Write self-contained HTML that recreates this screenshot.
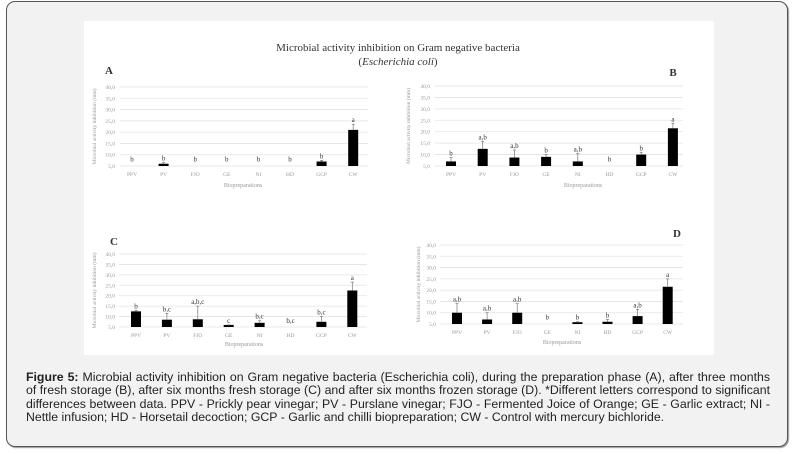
<!DOCTYPE html>
<html><head><meta charset="utf-8"><style>
body{margin:0;width:794px;height:454px;background:#fff;position:relative;overflow:hidden;font-family:"Liberation Sans",Arial,sans-serif}
#frame{position:absolute;left:6px;top:1px;width:780px;height:444px;border:1px solid #555;border-radius:9px;background:#f2f2f2;box-shadow:1px 1px 1px #999}
#img{position:absolute;left:84px;top:21px;width:630px;height:334px;background:#fff}
#cap{position:absolute;left:26px;top:371px;width:744px;font-size:12.3px;line-height:13.3px;color:#222;text-align:justify}
svg{position:absolute;left:0;top:0}
</style></head><body>
<div id="frame"></div><div id="img"></div>
<svg id="s" width="794" height="454" font-family="Liberation Serif,serif"></svg>
<div id="cap"><b>Figure 5:</b> Microbial activity inhibition on Gram negative bacteria (Escherichia coli), during the preparation phase (A), after three months of fresh storage (B), after six months fresh storage (C) and after six months frozen storage (D). *Different letters correspond to significant differences between data. PPV - Prickly pear vinegar; PV - Purslane vinegar; FJO - Fermented Joice of Orange; GE - Garlic extract; NI - Nettle infusion; HD - Horsetail decoction; GCP - Garlic and chilli biopreparation; CW - Control with mercury bichloride.</div>
<script>
var s=document.getElementById('s'),h='';
h+='<text x="398" y="51" text-anchor="middle" font-size="11" fill="#333">Microbial activity inhibition on Gram negative bacteria</text>';
h+='<text x="398" y="65" text-anchor="middle" font-size="11" fill="#333">(<tspan font-style="italic">Escherichia coli</tspan>)</text>';
var cats=['PPV','PV','FJO','GE','NI','HD','GCP','CW'];
function panel(o){
 var y40=o.y40,y5=o.y5,k=(y5-y40)/35;
 function Y(v){return y5-(v-5)*k}
 for(var v=5;v<=40;v+=5){var y=Y(v);
  h+='<line x1="'+o.g0+'" x2="'+o.g1+'" y1="'+y+'" y2="'+y+'" stroke="#e3e3e3" stroke-width="0.8"/>';
  h+='<text x="'+o.lx+'" y="'+(y+2)+'" text-anchor="end" font-size="5.5" fill="#999">'+v.toFixed(1).replace('.',',')+'</text>';}
 var mid=(y40+y5)/2;
 h+='<text transform="translate('+o.tx+','+mid+') rotate(-90)" text-anchor="middle" font-size="5.5" fill="#999">Microbial activity inhibition (mm)</text>';
 for(var i=0;i<8;i++){var x=o.c0+i*o.sp,d=o.d[i];
  h+='<text x="'+x+'" y="'+o.ly+'" text-anchor="middle" font-size="5.5" fill="#999">'+cats[i]+'</text>';
  var top=Y(d[0]>5?d[0]:5);
  if(d[0]>5){h+='<rect x="'+(x-5)+'" y="'+top+'" width="10" height="'+(y5-top)+'" fill="#000"/>';}
  if(d[1]){var e=Y(d[1]);h+='<line x1="'+x+'" x2="'+x+'" y1="'+e+'" y2="'+top+'" stroke="#777" stroke-width="0.7"/><line x1="'+(x-1.5)+'" x2="'+(x+1.5)+'" y1="'+e+'" y2="'+e+'" stroke="#777" stroke-width="0.7"/>';}
  var ty=(d[1]?Y(d[1]):top)-2; if(d[2]) ty=Y(d[2]);
  h+='<text x="'+x+'" y="'+ty+'" text-anchor="middle" font-size="7" fill="#333">'+d[3]+'</text>';}
 h+='<text x="'+o.bx+'" y="'+o.by+'" text-anchor="middle" font-size="6" fill="#999">Biopreparations</text>';
 h+='<text x="'+o.Lx+'" y="'+o.Ly+'" text-anchor="middle" font-size="11" font-weight="bold" fill="#333">'+o.L+'</text>';
}
panel({y40:87,y5:166,g0:120,g1:368,lx:115,tx:96,c0:132,sp:31.6,ly:176,bx:243,by:187,Lx:109,Ly:74,L:'A',
 d:[[5,0,7,'b'],[6,6.5,0,'b'],[5,0,7,'b'],[5,0,7,'b'],[5,0,7,'b'],[5,0,7,'b'],[7,7.5,0,'b'],[21,23.5,0,'a']]});
panel({y40:86,y5:166,g0:435,g1:683,lx:430,tx:410,c0:451,sp:31.7,ly:176,bx:583,by:187,Lx:673,Ly:76,L:'B',
 d:[[7,8.7,0,'b'],[12.5,15.8,0,'a,b'],[8.7,12,0,'a,b'],[9,10,0,'b'],[7,10.5,0,'a,b'],[5,0,7,'b'],[10,11,0,'b'],[21.5,23.7,0,'a']]});
panel({y40:254,y5:327,g0:119,g1:367,lx:115,tx:96,c0:136,sp:30.9,ly:337,bx:244,by:346,Lx:114,Ly:245,L:'C',
 d:[[12.5,13,0,'b'],[8.5,11.5,0,'b,c'],[8.7,15,0,'a,b,c'],[6,6,0,'c'],[7,8,0,'b,c'],[5,0,7,'b,c'],[7.5,10,0,'b,c'],[22.5,26.5,0,'a']]});
panel({y40:245,y5:324,g0:440,g1:683,lx:436,tx:420,c0:457,sp:30.1,ly:334,bx:562,by:344,Lx:677,Ly:237,L:'D',
 d:[[10,14,0,'a,b'],[7,10,0,'a,b'],[10,14,0,'a,b'],[5,0,7,'b'],[5.8,6,0,'b'],[6,7,0,'b'],[8.5,11.5,0,'a,b'],[21.5,25,0,'a']]});
s.innerHTML=h;
</script>
</body></html>
